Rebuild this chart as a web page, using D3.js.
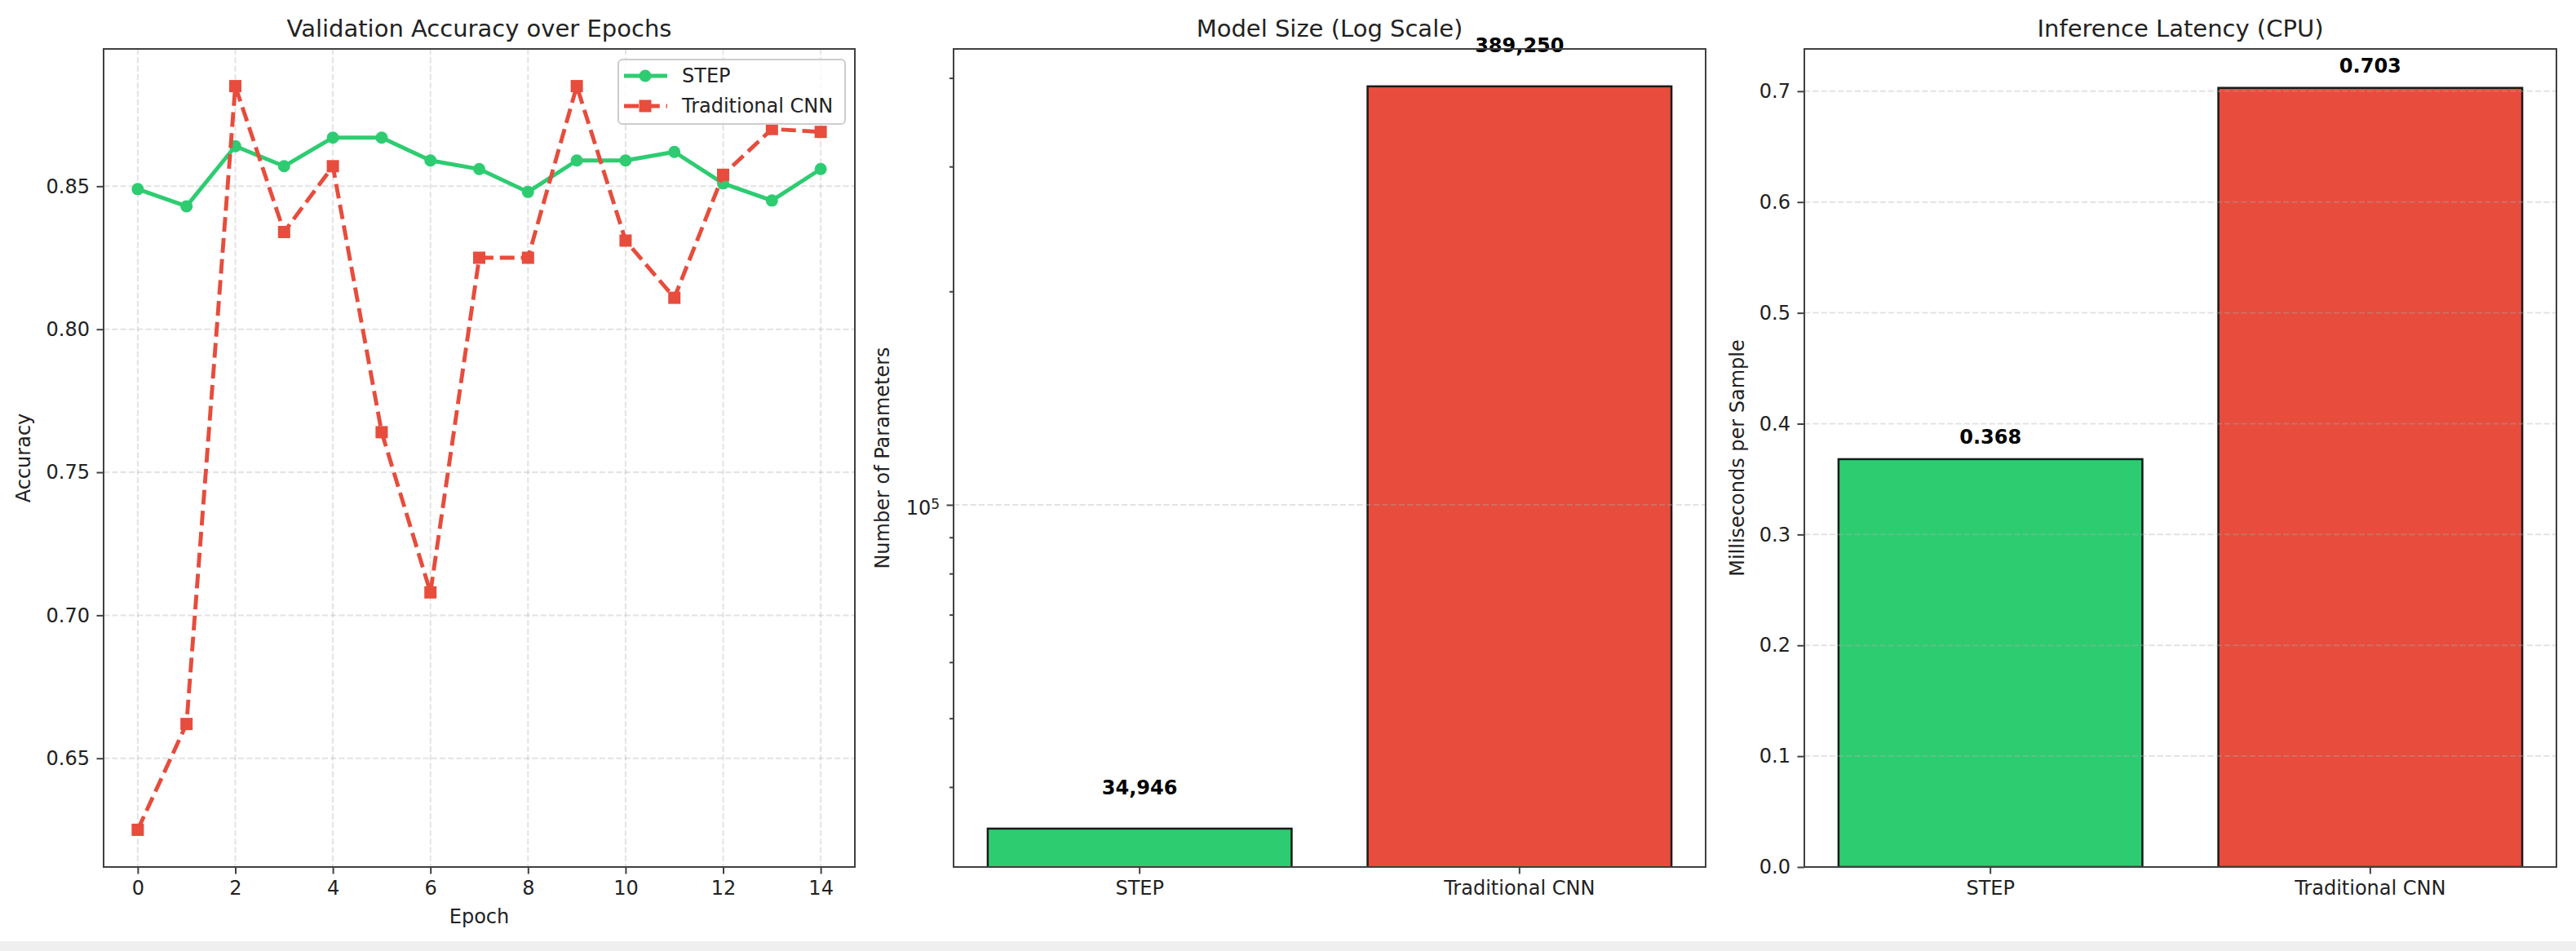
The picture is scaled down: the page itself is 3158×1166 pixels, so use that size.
<!DOCTYPE html>
<html>
<head>
<meta charset="utf-8">
<script src="https://cdn.jsdelivr.net/npm/d3@7"></script>
<style>
  body { margin: 0; background: #fff; }
  svg { display: block; font-family: "DejaVu Sans", sans-serif; }
</style>
</head>
<body>
<script>
// data
var epochs = [0, 1, 2, 3, 4, 5, 6, 7, 8, 9, 10, 11, 12, 13, 14];
var stepAcc = [0.849, 0.843, 0.864, 0.857, 0.867, 0.867, 0.859, 0.856, 0.848, 0.859, 0.859, 0.862, 0.851, 0.845, 0.856];
var cnnAcc = [0.625, 0.662, 0.885, 0.834, 0.857, 0.764, 0.708, 0.825, 0.825, 0.885, 0.831, 0.811, 0.854, 0.870, 0.869];
var epochTicks = [0, 2, 4, 6, 8, 10, 12, 14];
var accTicks = [0.65, 0.70, 0.75, 0.80, 0.85];

var models = ["STEP", "Traditional CNN"];
var paramCounts = [34946, 389250];
var paramMajorTicks = [1e5];
var paramMinorTicks = [4e4, 5e4, 6e4, 7e4, 8e4, 9e4, 2e5, 3e5, 4e5];

var latencyMs = [0.368, 0.703];
var latencyTicks = [0.0, 0.1, 0.2, 0.3, 0.4, 0.5, 0.6, 0.7];

// styling
var green = "#2ecc71", red = "#e74c3c";
var barColors = [green, red];
var svgWidth = 3158, svgHeight = 1166;
var axTop = 60, axBottom = 1063;
var panels = [
  {left: 127, right: 1048},
  {left: 1169, right: 2091},
  {left: 2212, right: 3134}
];
var ih = axBottom - axTop;
var tickFont = 24, titleFont = 29;
var spineColor = "#404040", textColor = "#222";
var gridDash = "7.2,3.1";

var svg = d3.select("body").append("svg")
  .attr("width", svgWidth)
  .attr("height", svgHeight);

svg.append("rect").attr("width", svgWidth).attr("height", svgHeight).attr("fill", "#fff");
// thin grey strip at the very bottom of the screenshot
svg.append("rect").attr("x", 0).attr("y", 1154).attr("width", svgWidth).attr("height", 12).attr("fill", "#efefef");

var defs = svg.append("defs");

function makePanel(i, title, ylabel) {
  var p = panels[i];
  var iw = p.right - p.left;
  defs.append("clipPath").attr("id", "clip" + i)
    .append("rect").attr("width", iw).attr("height", ih);
  var g = svg.append("g").attr("transform", "translate(" + p.left + "," + axTop + ")");
  g.append("text")
    .attr("x", iw / 2).attr("y", 45 - axTop)
    .attr("text-anchor", "middle")
    .attr("font-size", titleFont)
    .attr("fill", textColor)
    .text(title);
  g.append("text")
    .attr("transform", "rotate(-90)")
    .attr("x", -ih / 2)
    .attr("y", [29, 1082, 2130][i] - p.left)
    .attr("dy", "0.35em")
    .attr("text-anchor", "middle")
    .attr("font-size", tickFont)
    .attr("fill", textColor)
    .text(ylabel);
  return {g: g, iw: iw, plot: g.append("g").attr("clip-path", "url(#clip" + i + ")")};
}

function styleAxis(sel) {
  sel.select(".domain").remove();
  sel.selectAll(".tick line").attr("stroke", spineColor).attr("stroke-width", 2);
  sel.selectAll(".tick text").attr("fill", textColor);
  sel.attr("font-size", tickFont).attr("font-family", "DejaVu Sans, sans-serif");
}

function drawSpines(g, iw) {
  g.append("rect")
    .attr("width", iw).attr("height", ih)
    .attr("fill", "none")
    .attr("stroke", spineColor)
    .attr("stroke-width", 2);
}

function gridY(plot, iw, ticks, yScale) {
  plot.selectAll(".gy").data(ticks).enter().append("line")
    .attr("x1", 0).attr("x2", iw)
    .attr("y1", function(d) { return yScale(d); })
    .attr("y2", function(d) { return yScale(d); })
    .attr("stroke", "#b0b0b0").attr("stroke-opacity", 0.35)
    .attr("stroke-width", 2).attr("stroke-dasharray", gridDash);
}

// ---------- Panel 1: accuracy lines ----------
var p1 = makePanel(0, "Validation Accuracy over Epochs", "Accuracy");
var xPad = (d3.max(epochs) - d3.min(epochs)) * 0.05;
var xEpoch = d3.scaleLinear()
  .domain([d3.min(epochs) - xPad, d3.max(epochs) + xPad])
  .range([0, p1.iw]);
var accAll = stepAcc.concat(cnnAcc);
var accExt = d3.extent(accAll);
var accPad = (accExt[1] - accExt[0]) * 0.05;
var yAcc = d3.scaleLinear()
  .domain([accExt[0] - accPad, accExt[1] + accPad])
  .range([ih, 0]);

p1.plot.selectAll(".gx").data(epochTicks).enter().append("line")
  .attr("x1", function(d) { return xEpoch(d); })
  .attr("x2", function(d) { return xEpoch(d); })
  .attr("y1", 0).attr("y2", ih)
  .attr("stroke", "#b0b0b0").attr("stroke-opacity", 0.35)
  .attr("stroke-width", 2).attr("stroke-dasharray", gridDash);
gridY(p1.plot, p1.iw, accTicks, yAcc);

var accLine = d3.line()
  .x(function(d, i) { return xEpoch(epochs[i]); })
  .y(function(d) { return yAcc(d); });

p1.plot.append("path")
  .attr("d", accLine(stepAcc))
  .attr("fill", "none").attr("stroke", green).attr("stroke-width", 4.9)
  .attr("stroke-linejoin", "round");
p1.plot.selectAll(".stepDot").data(stepAcc).enter().append("circle")
  .attr("cx", function(d, i) { return xEpoch(epochs[i]); })
  .attr("cy", function(d) { return yAcc(d); })
  .attr("r", 7.5).attr("fill", green);

p1.plot.append("path")
  .attr("d", accLine(cnnAcc))
  .attr("fill", "none").attr("stroke", red).attr("stroke-width", 4.9)
  .attr("stroke-dasharray", "18,7.8");
p1.plot.selectAll(".cnnDot").data(cnnAcc).enter().append("rect")
  .attr("x", function(d, i) { return xEpoch(epochs[i]) - 7.5; })
  .attr("y", function(d) { return yAcc(d) - 7.5; })
  .attr("width", 15).attr("height", 15).attr("fill", red);

p1.g.append("g")
  .attr("transform", "translate(0," + ih + ")")
  .call(d3.axisBottom(xEpoch).tickValues(epochTicks).tickFormat(d3.format("d"))
    .tickSize(8.5).tickSizeOuter(0).tickPadding(8.5))
  .call(styleAxis);
p1.g.append("g")
  .call(d3.axisLeft(yAcc).tickValues(accTicks).tickFormat(d3.format(".2f"))
    .tickSize(8.5).tickSizeOuter(0).tickPadding(8.5))
  .call(styleAxis);

p1.g.append("text")
  .attr("x", p1.iw / 2).attr("y", 1132 - axTop)
  .attr("text-anchor", "middle")
  .attr("font-size", tickFont).attr("fill", textColor)
  .text("Epoch");

// legend
var leg = p1.g.append("g").attr("transform", "translate(" + (758 - panels[0].left) + "," + (73 - axTop) + ")");
leg.append("rect")
  .attr("width", 278).attr("height", 79).attr("rx", 5)
  .attr("fill", "#fff").attr("fill-opacity", 0.8)
  .attr("stroke", "#cccccc").attr("stroke-width", 2);
var legItems = [
  {name: "STEP", color: green, dash: null, marker: "circle"},
  {name: "Traditional CNN", color: red, dash: "18,7.8", marker: "square"}
];
legItems.forEach(function(it, k) {
  var ly = 20 + k * 37;
  leg.append("line")
    .attr("x1", 7).attr("x2", 60).attr("y1", ly).attr("y2", ly)
    .attr("stroke", it.color).attr("stroke-width", 4.9)
    .attr("stroke-dasharray", it.dash);
  if (it.marker === "circle") {
    leg.append("circle").attr("cx", 33).attr("cy", ly).attr("r", 7.5).attr("fill", it.color);
  } else {
    leg.append("rect").attr("x", 25.5).attr("y", ly - 7.5).attr("width", 15).attr("height", 15).attr("fill", it.color);
  }
  leg.append("text")
    .attr("x", 78).attr("y", ly).attr("dy", "0.35em")
    .attr("font-size", tickFont).attr("fill", textColor)
    .text(it.name);
});
drawSpines(p1.g, p1.iw);

// ---------- Panel 2: parameter counts, log scale ----------
var p2 = makePanel(1, "Model Size (Log Scale)", "Number of Parameters");
var xModel2 = d3.scaleBand().domain(models).range([0, p2.iw]).paddingInner(0.2).paddingOuter(0.09);
var yParams = d3.scaleLog().domain([30850, 439500]).range([ih, 0]);

p2.plot.selectAll(".bar").data(paramCounts).enter().append("rect")
  .attr("x", function(d, i) { return xModel2(models[i]); })
  .attr("y", function(d) { return yParams(d); })
  .attr("width", xModel2.bandwidth())
  .attr("height", function(d) { return ih - yParams(d) + 10; })
  .attr("fill", function(d, i) { return barColors[i]; })
  .attr("stroke", "#1a1a1a").attr("stroke-width", 2.5);
gridY(p2.plot, p2.iw, paramMajorTicks, yParams);

p2.g.append("g")
  .attr("transform", "translate(0," + ih + ")")
  .call(d3.axisBottom(xModel2).tickSize(8.5).tickSizeOuter(0).tickPadding(8.5))
  .call(styleAxis);
var yAx2 = p2.g.append("g")
  .call(d3.axisLeft(yParams).tickValues(paramMajorTicks).tickFormat("")
    .tickSize(8.5).tickSizeOuter(0).tickPadding(8.5))
  .call(styleAxis);
yAx2.selectAll(".tick text").each(function(d) {
  var t = d3.select(this).text(null);
  t.append("tspan").text("10");
  t.append("tspan").attr("dy", "-0.45em").attr("font-size", 17).text(String(Math.round(Math.log10(d))));
});
yAx2.selectAll(".tick text").attr("x", -17).attr("dy", "0.5em");
p2.g.append("g")
  .call(d3.axisLeft(yParams).tickValues(paramMinorTicks).tickFormat("")
    .tickSize(4.9).tickSizeOuter(0))
  .call(styleAxis);

p2.g.selectAll(".barLabel").data(paramCounts).enter().append("text")
  .attr("x", function(d, i) { return xModel2(models[i]) + xModel2.bandwidth() / 2; })
  .attr("y", function(d) { return yParams(d * 1.1) - 14; })
  .attr("dy", "0.35em")
  .attr("text-anchor", "middle")
  .attr("font-size", tickFont).attr("font-weight", "bold").attr("fill", "#000")
  .text(function(d) { return d3.format(",")(d); });
drawSpines(p2.g, p2.iw);

// ---------- Panel 3: latency ----------
var p3 = makePanel(2, "Inference Latency (CPU)", "Milliseconds per Sample");
var xModel3 = d3.scaleBand().domain(models).range([0, p3.iw]).paddingInner(0.2).paddingOuter(0.09);
var yLat = d3.scaleLinear().domain([0, d3.max(latencyMs) * 1.05]).range([ih, 0]);

p3.plot.selectAll(".bar").data(latencyMs).enter().append("rect")
  .attr("x", function(d, i) { return xModel3(models[i]); })
  .attr("y", function(d) { return yLat(d); })
  .attr("width", xModel3.bandwidth())
  .attr("height", function(d) { return ih - yLat(d); })
  .attr("fill", function(d, i) { return barColors[i]; })
  .attr("stroke", "#1a1a1a").attr("stroke-width", 2.5);
gridY(p3.plot, p3.iw, latencyTicks, yLat);

p3.g.append("g")
  .attr("transform", "translate(0," + ih + ")")
  .call(d3.axisBottom(xModel3).tickSize(8.5).tickSizeOuter(0).tickPadding(8.5))
  .call(styleAxis);
p3.g.append("g")
  .call(d3.axisLeft(yLat).tickValues(latencyTicks).tickFormat(d3.format(".1f"))
    .tickSize(8.5).tickSizeOuter(0).tickPadding(8.5))
  .call(styleAxis);

p3.g.selectAll(".barLabel").data(latencyMs).enter().append("text")
  .attr("x", function(d, i) { return xModel3(models[i]) + xModel3.bandwidth() / 2; })
  .attr("y", function(d) { return yLat(d + 0.01) - 14; })
  .attr("dy", "0.35em")
  .attr("text-anchor", "middle")
  .attr("font-size", tickFont).attr("font-weight", "bold").attr("fill", "#000")
  .text(function(d) { return d3.format(".3f")(d); });
drawSpines(p3.g, p3.iw);
</script>
</body>
</html>
